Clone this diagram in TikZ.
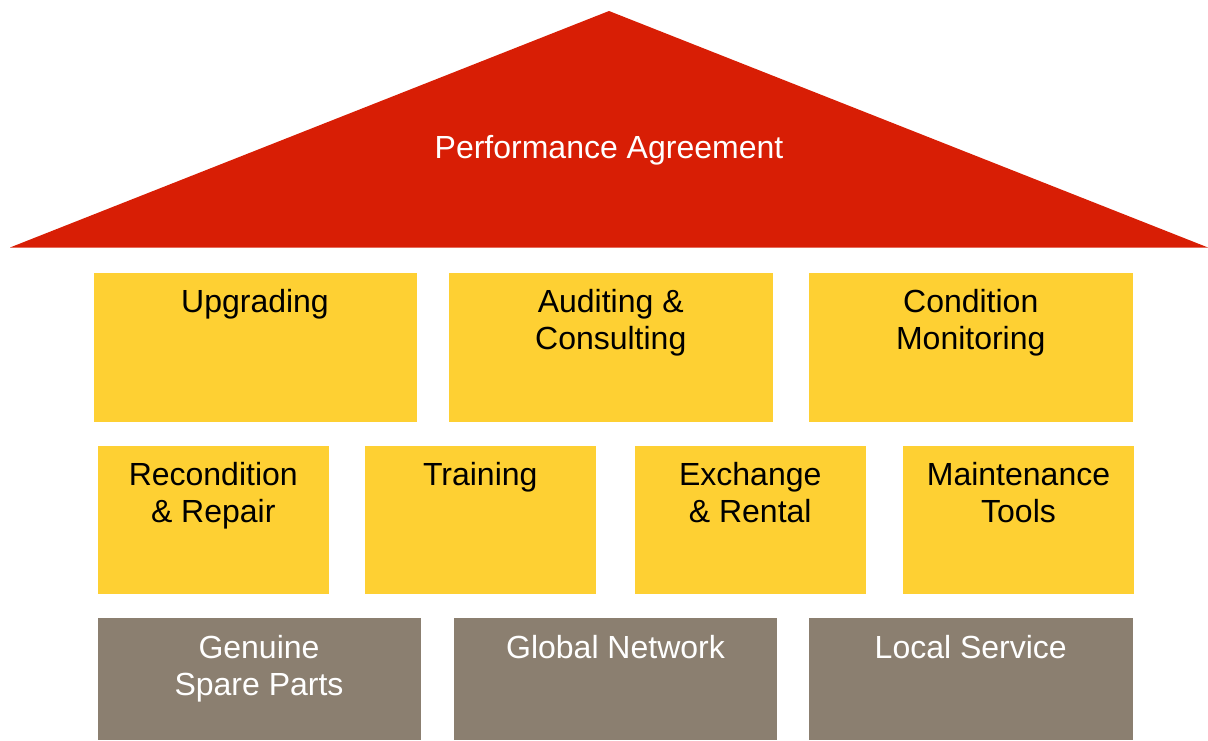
\documentclass[tikz,border=0pt]{standalone}
\usepackage{fontspec}
\setmainfont{Liberation Sans}
\usepackage{xcolor}
\definecolor{roofred}{HTML}{D81E05}
\definecolor{pillaryellow}{HTML}{FED033}
\definecolor{basegray}{HTML}{8B7F70}

\begin{document}
\begin{tikzpicture}[x=1pt,y=-1pt,
  block/.style={inner sep=0pt,outer sep=0pt,fill=#1},
  caption/.style={anchor=north,inner sep=0pt,align=center,
    font=\fontsize{32}{37}\selectfont}]
  \pgfmathsetmacro{\txtoff}{17}
  \useasboundingbox (0,0) rectangle (1208,740);

  % roof
  \fill[roofred] (10,247.5) -- (609,11) -- (1208,247.5) -- cycle;
  \node[caption,anchor=base,text=white] (roof) at (609,158) {Performance Agreement};

  % upper row
  \foreach \xa/\xb/\n/\t in {93.5/416.5/upgr/{Upgrading},
      449/772.5/audit/{Auditing \&\\Consulting},
      809/1132.5/cond/{Condition\\Monitoring}}{
    \node[block=pillaryellow,minimum width=\xb-\xa,minimum height=149]
      (\n) at ({(\xa+\xb)/2},347) {};
    \node[caption] (\n-txt) at ([yshift=-\txtoff pt]\n.north) {\t};
  }

  % middle row
  \foreach \xa/\xb/\n/\t in {97.5/329/recon/{Recondition\\\& Repair},
      365/595.5/train/{Training},
      635/865.5/exch/{Exchange\\\& Rental},
      903/1134/maint/{Maintenance\\Tools}}{
    \node[block=pillaryellow,minimum width=\xb-\xa,minimum height=148.5]
      (\n) at ({(\xa+\xb)/2},519.75) {};
    \node[caption] (\n-txt) at ([yshift=-\txtoff pt]\n.north) {\t};
  }

  % base row
  \foreach \xa/\xb/\n/\t in {97.5/420.5/parts/{Genuine\\Spare Parts},
      454/777/net/{Global Network},
      809/1132.5/local/{Local Service}}{
    \node[block=basegray,minimum width=\xb-\xa,minimum height=122]
      (\n) at ({(\xa+\xb)/2},679) {};
    \node[caption,text=white] (\n-txt) at ([yshift=-\txtoff pt]\n.north) {\t};
  }

\end{tikzpicture}
\end{document}
